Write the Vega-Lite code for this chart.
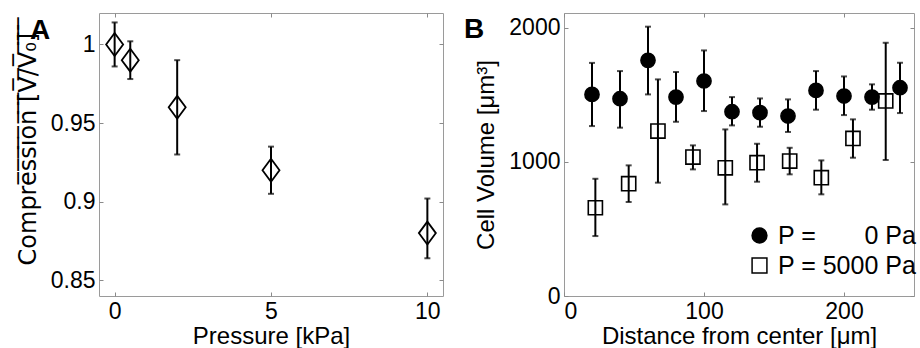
{
  "$schema": "https://vega.github.io/schema/vega-lite/v6.json",
  "padding": {"left": 15, "top": 12, "right": 0, "bottom": 0},
  "background": "white",
  "config": {
    "font": "Liberation Sans",
    "view": {"stroke": "#9a9a9a", "strokeWidth": 1},
    "axis": {
      "grid": false, "domain": false, "tickColor": "#8a8a8a", "tickSize": -4, "tickWidth": 1,
      "labelFontSize": 23, "titleFontSize": 24, "labelColor": "black", "titleColor": "black",
      "titleFontWeight": "normal", "labelFont": "Liberation Sans", "titleFont": "Liberation Sans",
      "labelPadding": 8
    },
    "title": {"fontSize": 28, "fontWeight": "bold", "font": "Liberation Sans", "color": "black"},
    "legend": {"labelFontSize": 25, "labelFont": "Liberation Sans", "labelColor": "black"}
  },
  "spacing": 19,
  "resolve": {"legend": {"shape": "independent", "fill": "independent"}},
  "hconcat": [
    {
      "width": 344, "height": 283,
      "title": {"text": "A", "anchor": "start", "frame": "group", "orient": "top", "baseline": "top", "offset": -32, "dx": -69},
      "data": {"values": [
        {"p": 0, "v": 1.0, "lo": 0.986, "hi": 1.014},
        {"p": 0.5, "v": 0.99, "lo": 0.978, "hi": 1.002},
        {"p": 2, "v": 0.96, "lo": 0.93, "hi": 0.99},
        {"p": 5, "v": 0.92, "lo": 0.905, "hi": 0.935},
        {"p": 10, "v": 0.88, "lo": 0.864, "hi": 0.902}
      ]},
      "layer": [
        {
          "mark": {"type": "rule", "strokeWidth": 2, "color": "black"},
          "encoding": {
            "x": {"field": "p", "type": "quantitative", "scale": {"domain": [-0.5, 10.5], "nice": false, "zero": false},
                  "axis": {"values": [0, 5, 10], "title": "Pressure [kPa]", "titlePadding": 1}},
            "y": {"field": "lo", "type": "quantitative", "scale": {"domain": [0.84, 1.02], "nice": false, "zero": false},
                  "axis": {"values": [0.85, 0.9, 0.95, 1], "format": "~g", "title": "Compre\u0305s\u0305s\u0305i\u0305o\u0305n\u0305 \u0305[\u0305V\u0305/\u0305V\u0305\u2080\u0305]\u0305\u00a0\u0305\u00a0\u0305",
                           "titleFont": "DejaVu Sans", "titleFontSize": 24, "titlePadding": 10, "titleY": 128}},
            "y2": {"field": "hi"}
          }
        },
        {
          "mark": {"type": "tick", "orient": "horizontal", "size": 6, "thickness": 2, "color": "black"},
          "encoding": {"x": {"field": "p", "type": "quantitative", "axis": null}, "y": {"field": "lo", "type": "quantitative", "axis": null}}
        },
        {
          "mark": {"type": "tick", "orient": "horizontal", "size": 6, "thickness": 2, "color": "black"},
          "encoding": {"x": {"field": "p", "type": "quantitative", "axis": null}, "y": {"field": "hi", "type": "quantitative", "axis": null}}
        },
        {
          "mark": {"type": "point", "shape": "M0,-1.35L1,0L0,1.35L-1,0Z", "size": 289, "filled": false, "stroke": "black", "strokeWidth": 1.8, "opacity": 1},
          "encoding": {
            "x": {"field": "p", "type": "quantitative", "axis": {"orient": "top", "labels": false, "title": null, "values": [0, 5, 10]}},
            "y": {"field": "v", "type": "quantitative", "axis": {"orient": "right", "labels": false, "title": null, "values": [0.85, 0.9, 0.95, 1]}}
          }
        }
      ],
      "resolve": {"axis": {"x": "independent", "y": "independent"}}
    },
    {
      "width": 350, "height": 283,
      "title": {"text": "B", "anchor": "start", "frame": "group", "orient": "top", "baseline": "top", "offset": -31, "dx": -100},
      "data": {"values": [
        {"s": "P = \u2007\u2007\u20070 Pa", "d": 20, "v": 1503, "lo": 1267, "hi": 1738},
        {"s": "P = \u2007\u2007\u20070 Pa", "d": 40, "v": 1471, "lo": 1255, "hi": 1677},
        {"s": "P = \u2007\u2007\u20070 Pa", "d": 60, "v": 1757, "lo": 1503, "hi": 2008},
        {"s": "P = \u2007\u2007\u20070 Pa", "d": 80, "v": 1483, "lo": 1299, "hi": 1670},
        {"s": "P = \u2007\u2007\u20070 Pa", "d": 100, "v": 1603, "lo": 1379, "hi": 1831},
        {"s": "P = \u2007\u2007\u20070 Pa", "d": 120, "v": 1374, "lo": 1272, "hi": 1483},
        {"s": "P = \u2007\u2007\u20070 Pa", "d": 140, "v": 1367, "lo": 1262, "hi": 1473},
        {"s": "P = \u2007\u2007\u20070 Pa", "d": 160, "v": 1342, "lo": 1223, "hi": 1466},
        {"s": "P = \u2007\u2007\u20070 Pa", "d": 180, "v": 1533, "lo": 1389, "hi": 1677},
        {"s": "P = \u2007\u2007\u20070 Pa", "d": 200, "v": 1491, "lo": 1349, "hi": 1637},
        {"s": "P = \u2007\u2007\u20070 Pa", "d": 220, "v": 1483, "lo": 1389, "hi": 1578},
        {"s": "P = \u2007\u2007\u20070 Pa", "d": 240, "v": 1553, "lo": 1364, "hi": 1739},
        {"s": "P = 5000 Pa", "d": 22.4, "v": 658, "lo": 447, "hi": 874},
        {"s": "P = 5000 Pa", "d": 46.2, "v": 837, "lo": 701, "hi": 974},
        {"s": "P = 5000 Pa", "d": 67.1, "v": 1230, "lo": 845, "hi": 1615},
        {"s": "P = 5000 Pa", "d": 92.1, "v": 1036, "lo": 944, "hi": 1123},
        {"s": "P = 5000 Pa", "d": 115.2, "v": 956, "lo": 683, "hi": 1242},
        {"s": "P = 5000 Pa", "d": 137.9, "v": 994, "lo": 852, "hi": 1135},
        {"s": "P = 5000 Pa", "d": 161.2, "v": 1006, "lo": 907, "hi": 1105},
        {"s": "P = 5000 Pa", "d": 183.8, "v": 882, "lo": 758, "hi": 1011},
        {"s": "P = 5000 Pa", "d": 206.4, "v": 1175, "lo": 1031, "hi": 1317},
        {"s": "P = 5000 Pa", "d": 229.8, "v": 1454, "lo": 1014, "hi": 1888}
      ]},
      "layer": [
        {
          "mark": {"type": "rule", "strokeWidth": 2, "color": "black"},
          "encoding": {
            "x": {"field": "d", "type": "quantitative", "scale": {"domain": [0, 250], "nice": false},
                  "axis": {"values": [0, 100, 200], "title": "Distance from center [\u03bcm]", "titlePadding": 1}},
            "y": {"field": "lo", "type": "quantitative", "scale": {"domain": [0, 2110], "nice": false},
                  "axis": {"values": [0, 1000, 2000], "format": "d", "title": "Cell Volume [\u03bcm\u00b3]", "titlePadding": 10}},
            "y2": {"field": "hi"}
          }
        },
        {
          "mark": {"type": "tick", "orient": "horizontal", "size": 6, "thickness": 2, "color": "black"},
          "encoding": {"x": {"field": "d", "type": "quantitative", "axis": null}, "y": {"field": "lo", "type": "quantitative", "axis": null}}
        },
        {
          "mark": {"type": "tick", "orient": "horizontal", "size": 6, "thickness": 2, "color": "black"},
          "encoding": {"x": {"field": "d", "type": "quantitative", "axis": null}, "y": {"field": "hi", "type": "quantitative", "axis": null}}
        },
        {
          "mark": {"type": "point", "filled": true, "stroke": "black", "strokeWidth": 1.6, "opacity": 1},
          "encoding": {
            "x": {"field": "d", "type": "quantitative", "axis": {"orient": "top", "labels": false, "title": null, "values": [0, 100, 200]}},
            "y": {"field": "v", "type": "quantitative", "axis": {"orient": "right", "labels": false, "title": null, "values": [0, 1000, 2000]}},
            "shape": {"field": "s", "type": "nominal", "scale": {"domain": ["P = \u2007\u2007\u20070 Pa", "P = 5000 Pa"], "range": ["circle", "square"]},
                      "legend": {"title": null, "orient": "none", "legendX": 183, "legendY": 210, "symbolSize": 220, "symbolStrokeWidth": 1.5, "rowPadding": 4, "labelOffset": 6}},
            "fill": {"field": "s", "type": "nominal", "scale": {"domain": ["P = \u2007\u2007\u20070 Pa", "P = 5000 Pa"], "range": ["black", "transparent"]},
                      "legend": {"title": null, "orient": "none", "legendX": 183, "legendY": 210, "symbolSize": 220, "symbolStrokeWidth": 1.5, "rowPadding": 4, "labelOffset": 6}},
            "size": {"value": 200}
          }
        }
      ],
      "resolve": {"axis": {"x": "independent", "y": "independent"}}
    }
  ]
}
